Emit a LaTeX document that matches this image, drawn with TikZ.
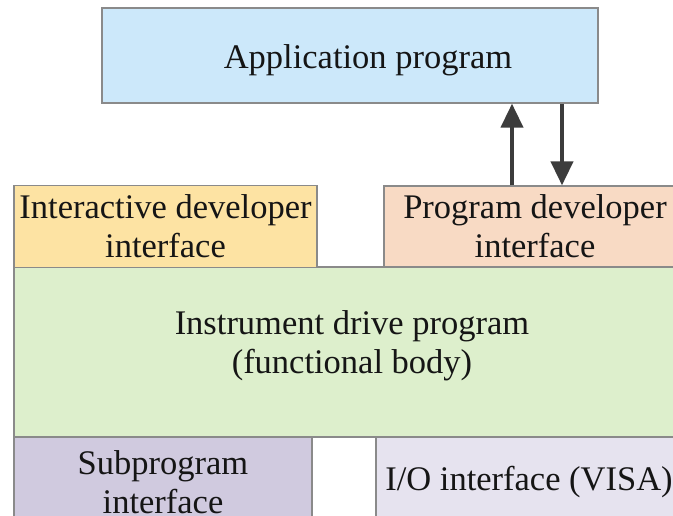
\documentclass[tikz,border=0pt]{standalone}
\usepackage{fontspec}
\setmainfont{Liberation Serif}
\usetikzlibrary{arrows.meta}
\definecolor{appblue}{HTML}{CCE8FA}
\definecolor{idyellow}{HTML}{FDE3A3}
\definecolor{pdpeach}{HTML}{F8DAC4}
\definecolor{drvgreen}{HTML}{DDEFCC}
\definecolor{subviolet}{HTML}{D0CADF}
\definecolor{iolilac}{HTML}{E6E3EF}
\definecolor{edgegray}{HTML}{8A8A8A}
\definecolor{arrowgray}{HTML}{3C3C3C}
\definecolor{txt}{HTML}{151515}
\begin{document}
\begin{tikzpicture}[x=1pt,y=-1pt,
  blk/.style={draw=edgegray, line width=1.3pt, inner sep=0pt, align=center,
    text=txt, font=\fontsize{34.5}{39}\selectfont},
  flow/.style={draw=arrowgray, line width=4pt,
    -{Triangle[length=24pt,width=22pt]}}]
\useasboundingbox (0,0) rectangle (673,515);
\clip (0,0) rectangle (673,515);
\fill[white] (0,0) rectangle (673,515);
\node[blk, fill=appblue, minimum width=496pt, minimum height=95pt] (app) at (350,55.5) {\raisebox{-5pt}[\height][\depth]{\hspace*{36pt}Application program}};
\node[blk, fill=drvgreen, minimum width=676pt, minimum height=170pt] (drv) at (352,352) {\raisebox{6pt}[\height][\depth]{\begin{tabular}{@{}c@{}}Instrument drive program\\[0pt](functional body)\end{tabular}}};
\node[blk, fill=idyellow, minimum width=303pt, minimum height=82pt] (idi) at (165.5,226.5) {Interactive developer\\interface};
\node[blk, fill=pdpeach, minimum width=302pt, minimum height=81pt] (pdi) at (535,226.5) {Program developer\\interface};
\node[blk, fill=subviolet, minimum width=298pt, minimum height=90pt] (sub) at (163,482) {Subprogram\\interface};
\node[blk, fill=iolilac, minimum width=306pt, minimum height=90pt] (io) at (529,482) {I/O interface (VISA)};
\coordinate (up) at (512,0);
\coordinate (dn) at (562,0);
\draw[flow] (pdi.north -| up) -- (app.south -| up);
\draw[flow] (app.south -| dn) -- (pdi.north -| dn);
\end{tikzpicture}
\end{document}
